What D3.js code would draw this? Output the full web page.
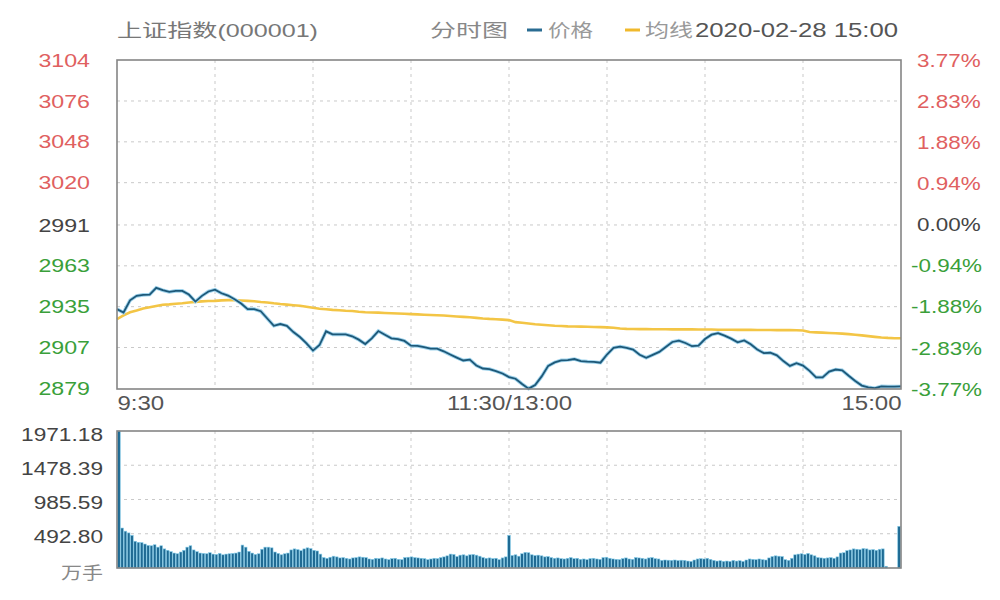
<!DOCTYPE html>
<html>
<head>
<meta charset="utf-8">
<script src="https://cdn.jsdelivr.net/npm/d3@7"></script>
<style>
  body { margin: 0; background: #fff; }
  svg { display: block; font-family: Arial, "Liberation Sans", "Noto Sans CJK SC", sans-serif; }
</style>
</head>
<body>
<svg width="1000" height="600"></svg>
<script>
const prevClose = 2991.33;
const priceTicks = [2879, 2907, 2935, 2963, 2991, 3020, 3048, 3076, 3104];
const pctTicks = [-3.77, -2.83, -1.88, -0.94, 0, 0.94, 1.88, 2.83, 3.77];
const volTicks = [492.80, 985.59, 1478.39, 1971.18];
const timeTicks = [0, 120, 240];
const timeLabels = ['9:30', '11:30/13:00', '15:00'];
const gridMinutes = [30, 60, 90, 120, 150, 180, 210];

// index price every 2 minutes, 9:30 -> 11:30 (=13:00) -> 15:00
const price = [
  2933.3, 2931.0, 2939.4, 2942.4, 2943.1, 2943.3, 2947.9, 2946.3, 2945.1, 2945.8,
  2945.8, 2943.3, 2938.5, 2942.4, 2945.4, 2946.7, 2944.2, 2942.6, 2940.1, 2937.2,
  2933.3, 2933.3, 2931.9, 2926.9, 2921.9, 2923.1, 2921.9, 2917.6, 2914.2, 2909.9,
  2904.9, 2908.7, 2918.1, 2916.0, 2916.0, 2916.0, 2914.7, 2912.4, 2909.4, 2913.3,
  2918.3, 2915.8, 2913.3, 2912.8, 2911.5, 2908.3, 2908.1, 2907.2, 2906.2, 2906.2,
  2904.4, 2902.2, 2900.1, 2898.1, 2898.7, 2894.7, 2892.6, 2892.2, 2890.8, 2889.2,
  2886.7,
  2885.6, 2882.0, 2878.8, 2881.3, 2887.2, 2894.4, 2896.8, 2898.2, 2898.4, 2899.1,
  2897.7, 2897.3, 2897.1, 2896.6, 2902.2, 2906.8, 2907.6, 2906.8, 2905.6, 2902.0,
  2900.0, 2902.0, 2904.0, 2907.4, 2910.8, 2911.7, 2910.1, 2907.9, 2908.3, 2912.8,
  2915.8, 2916.9, 2915.1, 2913.1, 2910.6, 2911.9, 2909.2, 2905.6, 2903.2, 2903.4,
  2901.6, 2897.7, 2894.4, 2896.2, 2894.6, 2891.0, 2886.5, 2886.5, 2890.5, 2891.9,
  2891.4, 2887.6, 2884.0, 2880.9, 2879.7, 2879.1, 2880.4, 2880.2, 2880.2, 2880.3
];

// average line, same 2 minute steps
const avg = [
  2926.5, 2929.0, 2931.2, 2932.3, 2933.8, 2934.6, 2935.5, 2936.3, 2936.6, 2937.0,
  2937.3, 2937.8, 2938.3, 2938.6, 2938.9, 2939.0, 2939.3, 2939.5, 2939.4, 2939.2,
  2939.0, 2938.7, 2938.2, 2937.9, 2937.3, 2936.8, 2936.4, 2936.0, 2935.6, 2935.0,
  2934.2, 2933.6, 2933.2, 2932.8, 2932.5, 2932.2, 2932.0, 2931.5, 2931.2, 2931.0,
  2930.9, 2930.7, 2930.5, 2930.3, 2930.1, 2929.9, 2929.7, 2929.5, 2929.3, 2929.1,
  2928.9, 2928.6, 2928.3, 2928.0, 2927.7, 2927.3, 2926.9, 2926.6, 2926.4, 2926.1,
  2925.8,
  2924.4, 2924.0, 2923.5, 2923.0, 2922.6, 2922.3, 2921.9, 2921.7, 2921.5, 2921.4,
  2921.3, 2921.2, 2921.1, 2921.0, 2920.8, 2920.5, 2920.0, 2919.8, 2919.7, 2919.6,
  2919.6, 2919.5, 2919.5, 2919.5, 2919.4, 2919.4, 2919.4, 2919.4, 2919.3, 2919.3,
  2919.3, 2919.2, 2919.2, 2919.2, 2919.1, 2919.1, 2919.1, 2919.0, 2919.0, 2919.0,
  2918.9, 2918.9, 2918.9, 2918.8, 2918.7, 2917.6, 2917.4, 2917.2, 2917.0, 2916.8,
  2916.5, 2916.2, 2915.8, 2915.3, 2914.8, 2914.3, 2913.9, 2913.6, 2913.4, 2913.3
];

// volume per minute, 万手
const volume = [
  1971.18, 575, 530, 505, 470, 385, 370, 365, 345, 325,
  320, 335, 300, 320, 275, 255, 235, 215, 205, 230,
  255, 300, 320, 260, 235, 215, 210, 205, 220, 200,
  195, 210, 190, 200, 205, 210, 215, 230, 330, 300,
  240, 215, 195, 205, 270, 300, 300, 290, 230, 210,
  190, 205, 215, 260, 275, 265, 250, 275, 290, 280,
  255, 245, 200, 150, 140, 155, 170, 160, 145, 150,
  140, 130, 145, 150, 160, 155, 150, 130, 125, 140,
  135, 145, 130, 120, 135, 140, 125, 120, 150, 155,
  160, 150, 145, 140, 135, 120, 130, 140, 135, 150,
  160, 175, 200, 195, 165, 185, 190, 175, 190, 195,
  185, 170, 150, 140, 145, 135, 140, 120, 145, 160,
  470,
  180, 190, 170, 205, 225, 220, 190, 180, 185, 175,
  160, 165, 150, 140, 145, 135, 130, 140, 150, 135,
  140, 125, 130, 120, 135, 140, 130, 125, 150, 155,
  140, 130, 125, 120, 135, 145, 130, 125, 150, 145,
  140, 130, 145, 150, 135, 130,
  110, 115, 112, 110, 115, 108, 112, 110, 100, 95,
  115, 130, 135, 130, 140, 125, 110, 100, 105, 95,
  100, 95, 110, 100, 105, 95, 115, 130, 125, 120,
  130, 120, 115, 145, 165, 175, 170, 165, 120, 110,
  140, 190, 200, 205, 195, 210, 190, 175, 150, 145,
  140, 145, 150, 140, 160, 215, 220, 250, 260, 275,
  270, 265, 280, 275, 260, 265, 255, 270, 275,
  25, 0, 0, 0, 600
];

const svg = d3.select('svg');
const left = 117, right = 901;
const pTop = 60, pBottom = 389;
const vTop = 431, vBottom = 568;

const x = d3.scaleLinear().domain([0, 240]).range([left, right]);
const y = d3.scaleLinear()
  .domain([prevClose * (1 - 0.0377), prevClose * (1 + 0.0377)])
  .range([pBottom, pTop]);
const yPct = d3.scaleLinear().domain([-3.77, 3.77]).range([pBottom, pTop]);
const yVol = d3.scaleLinear().domain([0, 1971.18]).range([vBottom, vTop]);
const xBand = d3.scaleBand().domain(d3.range(volume.length)).range([left, right]).padding(0.18);

const red = '#e06060', green = '#3a9f3a', grey = '#444';

// widen text like the stretched original
function stretch(sel, k) {
  sel.each(function () {
    const n = this.getComputedTextLength();
    d3.select(this).attr('textLength', n * k).attr('lengthAdjust', 'spacingAndGlyphs');
  });
}

// grids
const grid = svg.append('g').attr('stroke', '#c9c9c9').attr('stroke-dasharray', '3,4').attr('stroke-width', 1);
grid.selectAll('.hp').data(priceTicks.slice(1, -1)).enter().append('line')
  .attr('x1', left).attr('x2', right).attr('y1', d => y(d)).attr('y2', d => y(d));
grid.selectAll('.vp').data(gridMinutes).enter().append('line')
  .attr('x1', d => x(d)).attr('x2', d => x(d)).attr('y1', pTop).attr('y2', pBottom);
grid.selectAll('.hv').data(volTicks.slice(0, -1)).enter().append('line')
  .attr('x1', left).attr('x2', right).attr('y1', d => yVol(d)).attr('y2', d => yVol(d));
grid.selectAll('.vv').data(gridMinutes).enter().append('line')
  .attr('x1', d => x(d)).attr('x2', d => x(d)).attr('y1', vTop).attr('y2', vBottom);

// volume bars
svg.append('g').selectAll('rect').data(volume).enter().append('rect')
  .attr('x', (d, i) => xBand(i))
  .attr('width', xBand.bandwidth())
  .attr('y', d => yVol(d))
  .attr('height', d => vBottom - yVol(d))
  .attr('fill', '#1f6a93')
  .attr('stroke', '#86cdea')
  .attr('stroke-width', 0.6);

// lines
const line = d3.line().x((d, i) => x(i * 2)).y(d => y(d));
svg.append('path').datum(avg).attr('d', line)
  .attr('fill', 'none').attr('stroke', '#f3c545').attr('stroke-width', 2.6);
svg.append('path').datum(price).attr('d', line)
  .attr('fill', 'none').attr('stroke', '#9fd3ec').attr('stroke-width', 3.6);
svg.append('path').datum(price).attr('d', line)
  .attr('fill', 'none').attr('stroke', '#1d5878').attr('stroke-width', 1.8);

// frames
svg.append('rect').attr('x', left).attr('y', pTop).attr('width', right - left).attr('height', pBottom - pTop)
  .attr('fill', 'none').attr('stroke', '#858585').attr('stroke-width', 1.6);
svg.append('rect').attr('x', left).attr('y', vTop).attr('width', right - left).attr('height', vBottom - vTop)
  .attr('fill', 'none').attr('stroke', '#858585').attr('stroke-width', 1.6);

function tidy(g, size) {
  g.attr('font-size', size).attr('font-family', null);
  g.select('.domain').remove();
  g.selectAll('line').remove();
}

// left price axis
const gL = svg.append('g').attr('transform', `translate(${left},0)`)
  .call(d3.axisLeft(y).tickValues(priceTicks).tickSize(0).tickPadding(27).tickFormat(d3.format('d')));
tidy(gL, 19);
gL.selectAll('text').attr('fill', d => d > 2991 ? red : d < 2991 ? green : grey).call(stretch, 1.22);

// right percent axis
const pctFmt = d3.formatLocale({ decimal: '.', thousands: ',', grouping: [3], currency: ['', ''], minus: '-' }).format('.2f');
const gR = svg.append('g').attr('transform', `translate(${right},0)`)
  .call(d3.axisRight(yPct).tickValues(pctTicks).tickSize(0).tickPadding(10).tickFormat(d => pctFmt(d) + '%'));
tidy(gR, 19);
gR.selectAll('text').attr('fill', d => d > 0 ? red : d < 0 ? green : grey)
  .attr('dx', d => d < 0 ? 0 : 6).call(stretch, 1.18);

// time axis
const gX = svg.append('g').attr('transform', `translate(0,${pBottom})`)
  .call(d3.axisBottom(x).tickValues(timeTicks).tickSize(0).tickPadding(7).tickFormat((d, i) => timeLabels[i]));
tidy(gX, 20);
gX.selectAll('text').attr('fill', '#555')
  .attr('text-anchor', (d, i) => i === 0 ? 'start' : i === 2 ? 'end' : 'middle')
  .call(stretch, 1.2);

// volume axis
const gV = svg.append('g').attr('transform', `translate(${left},0)`)
  .call(d3.axisLeft(yVol).tickValues(volTicks).tickSize(0).tickPadding(14).tickFormat(d3.format('.2f')));
tidy(gV, 18);
gV.selectAll('text').attr('fill', '#444').attr('dy', '0.5em').call(stretch, 1.26);
svg.append('text').attr('x', 103).attr('y', 579).attr('text-anchor', 'end')
  .attr('font-size', 17).attr('fill', '#888').text('万手').attr('textLength', 42).attr('lengthAdjust', 'spacingAndGlyphs');

// header
const head = svg.append('g').attr('font-size', 18);
head.append('text').attr('x', 117).attr('y', 37).attr('fill', '#777').text('上证指数(000001)')
  .attr('textLength', 201).attr('lengthAdjust', 'spacingAndGlyphs');
head.append('text').attr('x', 430).attr('y', 37).attr('fill', '#888').text('分时图')
  .attr('textLength', 78).attr('lengthAdjust', 'spacingAndGlyphs');
head.append('line').attr('x1', 527).attr('x2', 542).attr('y1', 30).attr('y2', 30)
  .attr('stroke', '#2a6c92').attr('stroke-width', 3);
head.append('text').attr('x', 548).attr('y', 37).attr('fill', '#999').text('价格')
  .attr('textLength', 45).attr('lengthAdjust', 'spacingAndGlyphs');
head.append('line').attr('x1', 625).attr('x2', 640).attr('y1', 30).attr('y2', 30)
  .attr('stroke', '#f0b92c').attr('stroke-width', 3);
head.append('text').attr('x', 645).attr('y', 37).attr('fill', '#999').text('均线')
  .attr('textLength', 48).attr('lengthAdjust', 'spacingAndGlyphs');
head.append('text').attr('x', 695).attr('y', 37).attr('fill', '#555').attr('font-size', 21).text('2020-02-28 15:00')
  .attr('textLength', 203).attr('lengthAdjust', 'spacingAndGlyphs');
</script>
</body>
</html>
